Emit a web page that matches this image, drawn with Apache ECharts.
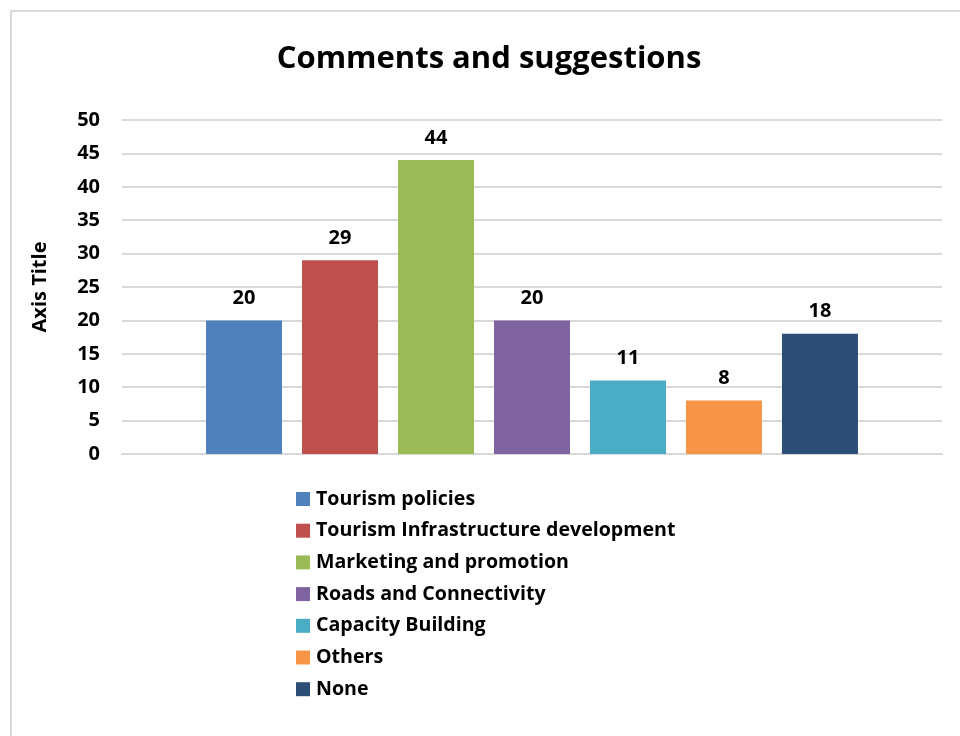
<!DOCTYPE html>
<html>
<head>
<meta charset="utf-8">
<script src="https://cdn.jsdelivr.net/npm/echarts@6/dist/echarts.min.js"></script>
<style>
  html, body { margin: 0; padding: 0; background: #fff; }
  #frame { position: absolute; left: 10px; top: 10px; width: 960px; height: 740px; border: 2px solid #d9d9d9; box-sizing: border-box; }
  #chart { position: absolute; left: 0; top: 0; width: 960px; height: 736px; }
</style>
</head>
<body>
<div id="frame"></div>
<div id="chart"></div>
<script>
const seriesNames = [
  'Tourism policies',
  'Tourism Infrastructure development',
  'Marketing and promotion',
  'Roads and Connectivity',
  'Capacity Building',
  'Others',
  'None'
];
const seriesValues = [20, 29, 44, 20, 11, 8, 18];
const seriesColors = ['#4f81bd', '#c0504d', '#9bbb59', '#8064a2', '#4bacc6', '#f79646', '#2c4d75'];
const yTicks = { min: 0, max: 50, interval: 5 };

const FONT = '"Open Sans", "Noto Sans", sans-serif';

const chart = echarts.init(document.getElementById('chart'), null, { renderer: 'canvas' });

const series = seriesNames.map((name, i) => ({
  name: name,
  type: 'bar',
  data: [seriesValues[i]],
  barWidth: 76,
  barGap: '26.3%',
  itemStyle: { color: seriesColors[i] },
  label: {
    show: true,
    position: 'top',
    distance: 12,
    fontFamily: FONT,
    fontWeight: 'bold',
    fontSize: 20,
    color: '#000'
  }
}));

chart.setOption({
  animation: false,
  backgroundColor: 'transparent',
  title: {
    text: 'Comments and suggestions',
    left: 484,
    textAlign: 'center',
    top: 39,
    textStyle: { fontFamily: FONT, fontWeight: 'bold', fontSize: 31, color: '#000' }
  },
  legend: {
    orient: 'vertical',
    left: 291,
    top: 484,
    itemWidth: 14,
    itemHeight: 14,
    itemGap: 11.7,
    icon: 'rect',
    textStyle: { fontFamily: FONT, fontWeight: 'bold', fontSize: 19.6, lineHeight: 20, color: '#000', padding: [0, 0, 0, 1] },
    data: seriesNames
  },
  grid: { left: 122, right: 18, top: 120, bottom: 282, containLabel: false },
  xAxis: {
    type: 'category',
    data: [''],
    axisLine: { show: true, lineStyle: { color: '#d9d9d9', width: 2 } },
    axisTick: { show: false },
    axisLabel: { show: false }
  },
  yAxis: {
    type: 'value',
    min: yTicks.min,
    max: yTicks.max,
    interval: yTicks.interval,
    name: 'Axis Title',
    nameLocation: 'middle',
    nameGap: 72,
    nameRotate: 90,
    nameTextStyle: { fontFamily: FONT, fontWeight: 'bold', fontSize: 20, color: '#000' },
    axisLine: { show: false },
    axisTick: { show: false },
    axisLabel: { fontFamily: FONT, fontWeight: 'bold', fontSize: 20, color: '#000', margin: 22 },
    splitLine: { lineStyle: { color: '#d9d9d9', width: 2 } }
  },
  series: series
});
</script>
</body>
</html>
